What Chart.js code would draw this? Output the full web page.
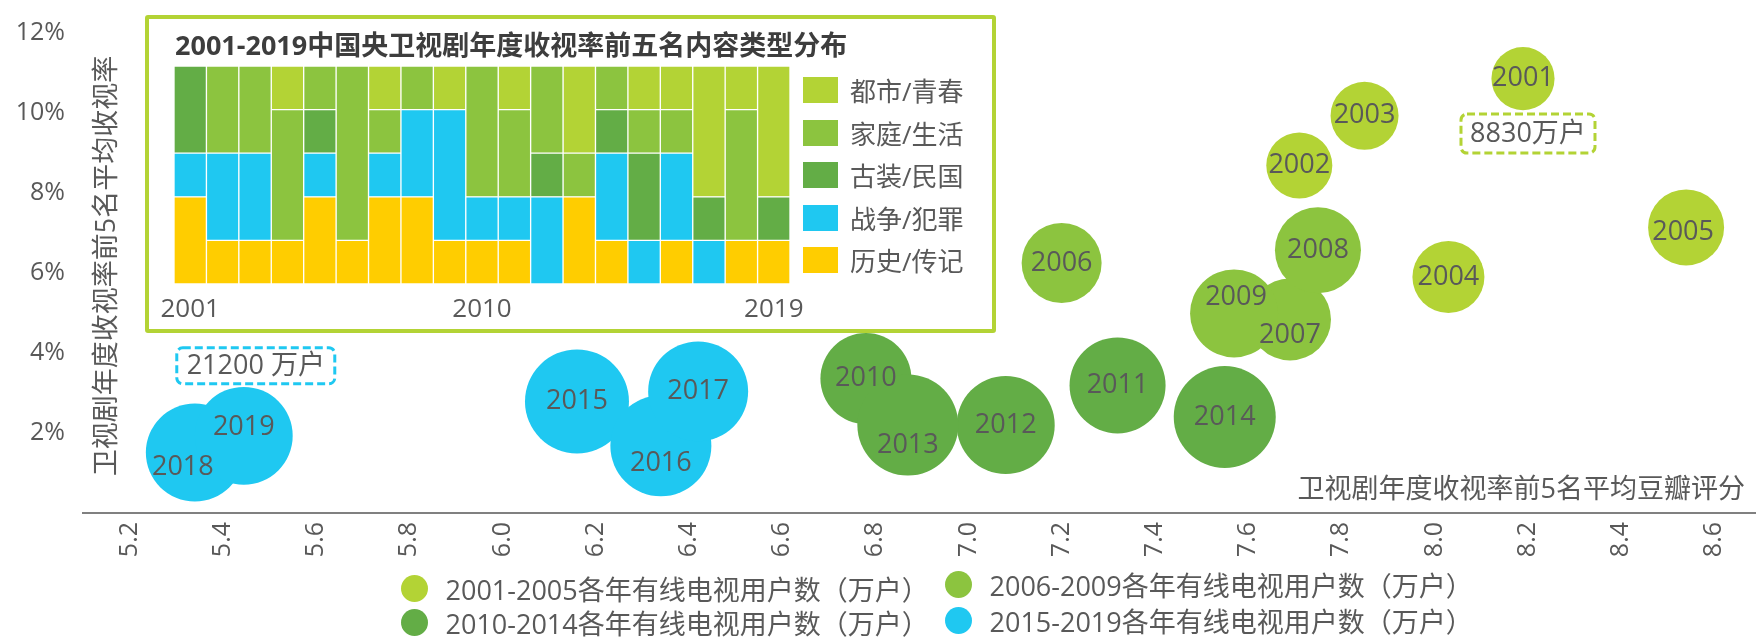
<!DOCTYPE html>
<html>
<head>
<meta charset="utf-8">
<script src="https://cdn.jsdelivr.net/npm/chart.js@4.4.0/dist/chart.umd.min.js"></script>
<style>
html,body{margin:0;padding:0;background:#fff;}
#wrap{position:relative;width:1756px;height:638px;overflow:hidden;font-family:'Open Sans','Noto Sans CJK SC',sans-serif;color:#595959;}
#main{position:absolute;left:0;top:0;}
#insetBox{position:absolute;left:145px;top:15px;width:851px;height:318px;border:4px solid #B3D335;border-radius:3px;box-sizing:border-box;background:#fff;}
#inset{position:absolute;left:0;top:0;}
#insetTitle{position:absolute;left:26px;top:9px;font-weight:bold;font-size:27px;color:#3d3d3d;white-space:nowrap;line-height:34px;}
.ileg{position:absolute;left:654px;height:30px;display:flex;align-items:center;font-size:26px;white-space:nowrap;}
.ileg .sq{width:35px;height:26px;margin-right:12px;display:inline-block;}
.mleg{position:absolute;height:34px;display:flex;align-items:center;font-size:27px;white-space:nowrap;}
.mleg .dot{width:27px;height:27px;border-radius:50%;margin-right:18px;display:inline-block;}
</style>
</head>
<body>
<div id="wrap">
  <canvas id="main" width="1756" height="638"></canvas>
  <div id="insetBox">
    <canvas id="inset" width="843" height="310"></canvas>
    <div id="insetTitle"></div>
  </div>
</div>
<script>
// ---------- Main bubble chart data ----------
const years = [2001,2002,2003,2004,2005,2006,2007,2008,2009,2010,2011,2012,2013,2014,2015,2016,2017,2018,2019];
const doubanScore = [8.19,7.71,7.85,8.03,8.54,7.20,7.69,7.75,7.57,6.78,7.32,7.08,6.87,7.55,6.16,6.34,6.42,5.34,5.445];
const viewRating = [10.86,8.69,9.93,5.90,7.14,6.25,4.84,6.57,4.99,3.36,3.19,2.20,2.20,2.40,2.79,1.68,3.04,1.51,1.93];
const cableUsers = [8830,9650,10240,11480,12790,14170,14890,16380,17150,18340,20410,21270,22590,23040,23950,22590,22140,21270,21200];
const periodStarts = [2001,2006,2010,2015];
const periodEnds = [2005,2009,2014,2019];
const xTickValues = [5.2,5.4,5.6,5.8,6.0,6.2,6.4,6.6,6.8,7.0,7.2,7.4,7.6,7.8,8.0,8.2,8.4,8.6];
const yTickValues = [2,4,6,8,10,12];
const xTitle = '卫视剧年度收视率前5名平均豆瓣评分';
const yTitle = '卫视剧年度收视率前5名平均收视率';

// ---------- Inset stacked bar data (counts of top-5 dramas by genre) ----------
const insetTitle = '2001-2019中国央卫视剧年度收视率前五名内容类型分布';
const genreNames = ['都市/青春','家庭/生活','古装/民国','战争/犯罪','历史/传记'];
const urbanYouth = [0,0,0,1,0,0,1,0,1,0,1,0,2,0,1,1,3,1,3];
const familyLife = [0,2,2,3,1,4,1,1,0,3,2,2,1,1,1,1,0,3,0];
const costumeRepublic = [2,0,0,0,1,0,0,0,0,0,0,1,0,1,2,0,1,0,1];
const warCrime = [1,2,2,0,1,0,1,2,3,1,1,2,0,2,1,2,1,0,0];
const historyBio = [2,1,1,1,2,1,2,2,1,1,1,0,2,1,0,1,0,1,1];
const insetTickYears = [2001,2010,2019];

// ---------- styles ----------
const FONT = "'Open Sans','Noto Sans CJK SC',sans-serif";
const TEXT = '#595959';
const periodColors = ['#B3D335','#8CC43F','#63AD46','#1FC8F1'];
const genreColors = ['#B3D335','#8CC43F','#63AD46','#1FC8F1','#FFCD00'];
const RADIUS_K = 0.336; // px per sqrt(万户)
const labelOffsets = {2005:[-3,5],2007:[0,16],2009:[2,-16],2013:[0,20],2016:[0,18],2018:[-12,15],2019:[0,-8]};

Chart.defaults.font.family = FONT;
Chart.defaults.color = TEXT;

const datasets = periodStarts.map((s, p) => {
  const data = [];
  years.forEach((y, i) => {
    if (y >= s && y <= periodEnds[p]) {
      data.push({x: doubanScore[i], y: viewRating[i], r: RADIUS_K * Math.sqrt(cableUsers[i]), year: y, users: cableUsers[i]});
    }
  });
  return {
    label: s + '-' + periodEnds[p] + '各年有线电视用户数（万户）',
    data,
    backgroundColor: periodColors[p],
    borderWidth: 0,
    hoverBorderWidth: 0,
    clip: false
  };
});

function dashedBox(ctx, cx, cy, w, h, color, text) {
  ctx.save();
  ctx.strokeStyle = color;
  ctx.lineWidth = 3;
  ctx.setLineDash([8,4]);
  ctx.beginPath();
  ctx.roundRect(cx - w/2, cy - h/2, w, h, 6);
  ctx.stroke();
  ctx.setLineDash([]);
  ctx.fillStyle = TEXT;
  ctx.font = '27px ' + FONT;
  ctx.textAlign = 'center';
  ctx.textBaseline = 'middle';
  ctx.fillText(text, cx, cy + 1);
  ctx.restore();
}

const mainPlugin = {
  id: 'mainDecor',
  beforeDatasetsDraw(chart) {
    const ctx = chart.ctx;
    ctx.save();
    ctx.fillStyle = TEXT;
    ctx.font = '27px ' + FONT;
    ctx.textBaseline = 'middle';
    ctx.save();
    ctx.translate(107, 266);
    ctx.rotate(-Math.PI/2);
    ctx.textAlign = 'center';
    ctx.fillText(yTitle, 0, 0);
    ctx.restore();
    ctx.textAlign = 'right';
    ctx.fillText(xTitle, chart.chartArea.right - 11, 490);
    ctx.restore();
  },
  afterDatasetsDraw(chart) {
    const ctx = chart.ctx;
    ctx.save();
    ctx.fillStyle = TEXT;
    ctx.font = '27px ' + FONT;
    ctx.textAlign = 'center';
    ctx.textBaseline = 'middle';
    let first = null, last = null;
    chart.data.datasets.forEach((ds, di) => {
      const meta = chart.getDatasetMeta(di);
      meta.data.forEach((el, i) => {
        const d = ds.data[i];
        const off = labelOffsets[d.year] || [0,0];
        ctx.fillText(String(d.year), el.x + off[0], el.y + off[1]);
        if (d.year === years[0]) first = {el, d, color: ds.backgroundColor};
        if (d.year === years[years.length-1]) last = {el, d, color: ds.backgroundColor};
      });
    });
    ctx.restore();
    if (first) dashedBox(ctx, first.el.x + 5, first.el.y + 55, 134, 39, first.color, first.d.users + '万户');
    if (last) dashedBox(ctx, last.el.x + 12, last.el.y - 70, 158, 36, last.color, last.d.users + ' 万户');
  }
};

new Chart(document.getElementById('main'), {
  type: 'bubble',
  data: {datasets},
  options: {
    responsive: false,
    animation: false,
    devicePixelRatio: 1,
    layout: {autoPadding: false, padding: {top: 27, left: 0, right: 0, bottom: 0}},
    plugins: {legend: {display: false}, tooltip: {enabled: false}},
    scales: {
      x: {
        type: 'linear', min: 5.1, max: 8.69,
        afterBuildTicks: s => { s.ticks = xTickValues.map(v => ({value: v})); },
        afterFit: s => { s.height = 125; s.paddingLeft = 0; s.paddingRight = 0; },
        grid: {display: false, drawTicks: false},
        border: {display: true, color: '#808080', width: 2},
        ticks: {minRotation: 90, maxRotation: 90, autoSkip: false, padding: 9, color: TEXT, font: {size: 25},
                callback: v => Number(v).toFixed(1)}
      },
      y: {
        type: 'linear', min: 0, max: 12,
        afterBuildTicks: s => { s.ticks = yTickValues.map(v => ({value: v})); },
        afterFit: s => { s.width = 83; },
        grid: {display: false, drawTicks: false},
        border: {display: false},
        ticks: {padding: 18, color: TEXT, font: {size: 25}, callback: v => v + '%'}
      }
    }
  },
  plugins: [mainPlugin]
});

// main legend (HTML)
const legendPos = [[414,588],[958,584],[414,622],[958,620]];
datasets.forEach((ds, i) => {
  const d = document.createElement('div');
  d.className = 'mleg';
  d.style.left = (legendPos[i][0] - 13.5) + 'px';
  d.style.top = (legendPos[i][1] - 17) + 'px';
  const dot = document.createElement('span');
  dot.className = 'dot';
  dot.style.background = ds.backgroundColor;
  const t = document.createElement('span');
  t.textContent = ds.label;
  d.appendChild(dot); d.appendChild(t);
  document.getElementById('wrap').appendChild(d);
});

// ---------- Inset chart ----------
document.getElementById('insetTitle').textContent = insetTitle;
const genreSeries = [urbanYouth, familyLife, costumeRepublic, warCrime, historyBio];
const insetDatasets = genreSeries.map((arr, g) => ({
  label: genreNames[g],
  data: arr.map(v => v === 0 ? null : v),
  backgroundColor: genreColors[g],
  borderColor: '#ffffff',
  borderWidth: 1,
  borderSkipped: false,
  categoryPercentage: 1,
  barPercentage: 1
})).reverse();

new Chart(document.getElementById('inset'), {
  type: 'bar',
  data: {labels: years.map(String), datasets: insetDatasets},
  options: {
    responsive: false,
    animation: false,
    devicePixelRatio: 1,
    layout: {padding: {left: 25, right: 202, top: 47, bottom: 0}},
    plugins: {legend: {display: false}, tooltip: {enabled: false}},
    scales: {
      x: {
        stacked: true,
        grid: {display: false, drawTicks: false},
        border: {display: false},
        afterFit: s => { s.height = 45; },
        ticks: {autoSkip: false, minRotation: 0, maxRotation: 0, padding: 10, color: TEXT, font: {size: 26},
                callback: (v, i) => insetTickYears.includes(years[i]) ? String(years[i]) : ''}
      },
      y: {stacked: true, display: false, min: 0, max: 5}
    }
  }
});

// inset legend (HTML)
const ilegY = [71,113.6,156.2,198.8,241.4];
genreNames.forEach((n, g) => {
  const d = document.createElement('div');
  d.className = 'ileg';
  d.style.top = (ilegY[g] - 15) + 'px';
  const sq = document.createElement('span');
  sq.className = 'sq';
  sq.style.background = genreColors[g];
  const t = document.createElement('span');
  t.textContent = n;
  d.appendChild(sq); d.appendChild(t);
  document.getElementById('insetBox').appendChild(d);
});
</script>
</body>
</html>
